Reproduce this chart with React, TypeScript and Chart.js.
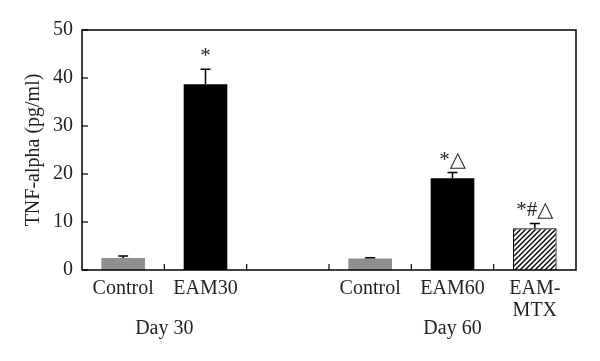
import React, { useEffect, useRef } from "react";
import { Chart, registerables } from "chart.js";

Chart.register(...registerables);

const categories: (string | string[])[] = ["Control", "EAM30", "", "Control", "EAM60", ["EAM-", "MTX"]];
const means: (number | null)[] = [2.5, 38.7, null, 2.4, 19.1, 8.7];
const errors: (number | null)[] = [0.4, 3.1, null, 0.15, 1.2, 1.0];
const marks: string[] = ["", "*", "", "", "*\u25B3", "*#\u25B3"];
const barKinds: string[] = ["grey", "black", "none", "grey", "black", "hatch"];
const groupLabels: string[] = ["Day 30", "Day 60"];
const groupSpans: number[][] = [[0, 1], [3, 5]];
const yTicks: number[] = [0, 10, 20, 30, 40, 50];
const yTitle = "TNF-alpha (pg/ml)";

const FONT = "'Liberation Serif', 'DejaVu Serif', serif";
const TEXT = "#231f20";

function makeHatch(): CanvasPattern | string {
  const c = document.createElement("canvas");
  const s = 5;
  c.width = s;
  c.height = s;
  const g = c.getContext("2d");
  if (!g) return "#fff";
  g.fillStyle = "#fff";
  g.fillRect(0, 0, s, s);
  g.strokeStyle = "#000";
  g.lineWidth = 1.4;
  g.beginPath();
  g.moveTo(-1, s + 1);
  g.lineTo(s + 1, -1);
  g.moveTo(-1, 1);
  g.lineTo(1, -1);
  g.moveTo(s - 1, s + 1);
  g.lineTo(s + 1, s - 1);
  g.stroke();
  const p = g.createPattern(c, "repeat");
  return p || "#fff";
}

const decorPlugin = {
  id: "decor",
  afterDatasetsDraw(chart: any) {
    const { ctx, chartArea } = chart;
    const xs = chart.scales.x;
    const ys = chart.scales.y;
    ctx.save();
    ctx.strokeStyle = "#000";
    ctx.lineWidth = 1.5;
    // error bars
    means.forEach((m, i) => {
      const e = errors[i];
      if (m == null || e == null) return;
      const x = xs.getPixelForValue(i);
      const y0 = ys.getPixelForValue(m);
      const y1 = ys.getPixelForValue(m + e);
      ctx.beginPath();
      ctx.moveTo(x, y0);
      ctx.lineTo(x, y1);
      ctx.moveTo(x - 5, y1);
      ctx.lineTo(x + 5, y1);
      ctx.stroke();
      if (marks[i]) {
        ctx.fillStyle = TEXT;
        ctx.font = `21px ${FONT}`;
        ctx.textAlign = "center";
        ctx.textBaseline = "bottom";
        ctx.fillText(marks[i], x, y1 - 2);
      }
    });
    // box
    ctx.lineWidth = 1.5;
    ctx.strokeRect(chartArea.left, chartArea.top, chartArea.right - chartArea.left, chartArea.bottom - chartArea.top);
    // y ticks inward
    ctx.lineWidth = 1.2;
    yTicks.forEach((v) => {
      const y = ys.getPixelForValue(v);
      ctx.beginPath();
      ctx.moveTo(chartArea.left, y);
      ctx.lineTo(chartArea.left + 6, y);
      ctx.stroke();
    });
    // x ticks inward at category boundaries
    for (let i = 0; i < categories.length - 1; i++) {
      const x = xs.getPixelForValue(i + 0.5);
      ctx.beginPath();
      ctx.moveTo(x, chartArea.bottom);
      ctx.lineTo(x, chartArea.bottom - 6);
      ctx.stroke();
    }
    // group labels
    ctx.fillStyle = TEXT;
    ctx.font = `20px ${FONT}`;
    ctx.textAlign = "center";
    ctx.textBaseline = "middle";
    groupLabels.forEach((g, k) => {
      const [a, b] = groupSpans[k];
      const x = xs.getPixelForValue((a + b) / 2);
      ctx.fillText(g, x, chartArea.bottom + 59);
    });
    ctx.restore();
  },
};

export default function App() {
  const ref = useRef<HTMLCanvasElement | null>(null);
  useEffect(() => {
    if (!ref.current) return;
    const hatch = makeHatch();
    const colors = barKinds.map((k) => (k === "grey" ? "#8f8f8f" : k === "black" ? "#000000" : k === "hatch" ? hatch : "rgba(0,0,0,0)"));
    const borders = barKinds.map((k) => (k === "hatch" ? 1.2 : 0));
    const chart = new Chart(ref.current, {
      type: "bar",
      data: {
        labels: categories as any,
        datasets: [
          {
            data: means as any,
            backgroundColor: colors as any,
            borderColor: "#000",
            borderWidth: borders as any,
            categoryPercentage: 1,
            barPercentage: 0.53,
          },
        ],
      },
      plugins: [decorPlugin],
      options: {
        animation: false,
        responsive: false,
        maintainAspectRatio: false,
        layout: { padding: { left: 0, top: 30, right: 24, bottom: 0 } },
        plugins: { legend: { display: false }, tooltip: { enabled: false } },
        scales: {
          x: {
            type: "category",
            offset: true,
            grid: { display: false, drawTicks: false },
            border: { display: false },
            ticks: {
              color: TEXT,
              font: { family: FONT, size: 20, lineHeight: 1.1 },
              padding: 8,
              maxRotation: 0,
              autoSkip: false,
            },
            afterFit: (s: any) => {
              s.height = 91;
            },
          },
          y: {
            min: 0,
            max: 50,
            grid: { display: false, drawTicks: false },
            border: { display: false },
            ticks: {
              stepSize: 10,
              color: TEXT,
              font: { family: FONT, size: 20 },
              padding: 9,
            },
            title: {
              display: true,
              text: yTitle,
              color: TEXT,
              font: { family: FONT, size: 20 },
              padding: { top: 22, bottom: 0 },
            },
            afterFit: (s: any) => {
              s.width = 82;
            },
          },
        },
      },
    });
    return () => chart.destroy();
  }, []);
  return (
    <div style={{ position: "fixed", left: 0, top: 0, width: 600, height: 361, background: "#fff" }}>
      <canvas ref={ref} width={600} height={361} style={{ width: 600, height: 361 }} />
    </div>
  );
}
